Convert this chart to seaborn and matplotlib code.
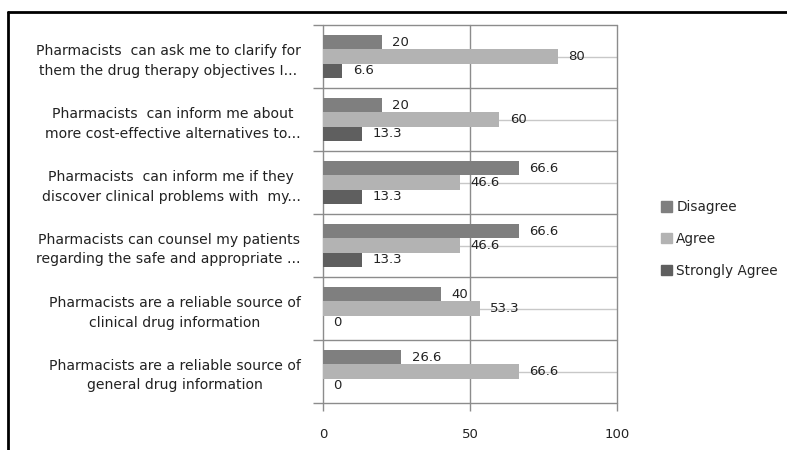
import matplotlib
matplotlib.use("Agg")
import matplotlib.pyplot as plt
import seaborn as sns
import pandas as pd
import numpy as np
from matplotlib.lines import Line2D

categories = [
    "Pharmacists  can ask me to clarify for\nthem the drug therapy objectives I...",
    "Pharmacists  can inform me about\nmore cost-effective alternatives to...",
    "Pharmacists  can inform me if they\ndiscover clinical problems with  my...",
    "Pharmacists can counsel my patients\nregarding the safe and appropriate ...",
    "Pharmacists are a reliable source of\nclinical drug information",
    "Pharmacists are a reliable source of\ngeneral drug information",
]
series = ["Disagree", "Agree", "Strongly Agree"]
disagree = [20, 20, 66.6, 66.6, 40, 26.6]
agree = [80, 60, 46.6, 46.6, 53.3, 66.6]
strongly_agree = [6.6, 13.3, 13.3, 13.3, 0, 0]
label_text = {
    "Disagree": ["20", "20", "66.6", "66.6", "40", "26.6"],
    "Agree": ["80", "60", "46.6", "46.6", "53.3", "66.6"],
    "Strongly Agree": ["6.6", "13.3", "13.3", "13.3", "0", "0"],
}
colors = ["#7f7f7f", "#b3b3b3", "#5f5f5f"]
xticks = [0, 50, 100]

rows = []
for s, vals in zip(series, [disagree, agree, strongly_agree]):
    for c, v in zip(categories, vals):
        rows.append({"category": c, "series": s, "value": v})
df = pd.DataFrame(rows)

sns.set_style("white")
plt.rcParams["font.family"] = ["DejaVu Sans"]

fig = plt.figure(figsize=(7.87, 4.5), dpi=100)
ax = fig.add_axes([323 / 787, 1 - 403 / 450, (617 - 323) / 787, (403 - 25) / 450])

n = len(categories)
# light center lines
for i in range(n):
    ax.plot([0, 100], [i, i], color="#c8c8c8", lw=1, zorder=0)

sns.barplot(data=df, y="category", x="value", hue="series", hue_order=series,
            order=categories, palette=colors, orient="h", width=0.68,
            saturation=1, ax=ax, legend=True, zorder=2, edgecolor="none")

ax.set_xlim(0, 100)
ax.set_ylim(n - 0.5, -0.5)

# boundary grid lines
for b in np.arange(-0.5, n, 1.0):
    ax.axhline(b, color="#8c8c8c", lw=1, zorder=1, clip_on=False)
for xv in xticks:
    ax.axvline(xv, color="#8c8c8c", lw=1, zorder=1, clip_on=False)

for sp in ax.spines.values():
    sp.set_visible(False)

ax.set_xlabel("")
ax.set_ylabel("")
ax.set_xticks(xticks)
ax.set_xticklabels([str(x) for x in xticks], fontsize=9.5, color="#222222")
ax.tick_params(axis="x", bottom=True, length=6, width=1, color="#8c8c8c", pad=12, direction="out")
ax.set_yticks(range(n))
ax.set_yticklabels(categories, fontsize=10.1, color="#222222")
ax.tick_params(axis="y", which="major", left=False, length=0, pad=16)
for t in ax.get_yticklabels():
    t.set_multialignment("center")
    t.set_linespacing(1.5)
ax.set_yticks(np.arange(-0.5, n, 1.0), minor=True)
ax.tick_params(axis="y", which="minor", left=True, length=7, width=1, color="#8c8c8c", direction="out")

# data labels
for cont, s in zip(ax.containers, series):
    for rect, txt in zip(cont, label_text[s]):
        w = rect.get_width()
        yc = rect.get_y() + rect.get_height() / 2
        ax.annotate(txt, (w, yc), xytext=(7.5, 0), textcoords="offset points",
                    va="center", ha="left", fontsize=9.5,
                    color="#222222", zorder=5)

# legend
handles = [plt.Rectangle((0, 0), 1, 1, color=c) for c in colors]
ax.legend(handles, series, loc="center left", bbox_to_anchor=(649 / 787, 1 - 239 / 450),
          bbox_transform=fig.transFigure, frameon=False, fontsize=9.8,
          handlelength=0.8, handleheight=0.8, handletextpad=0.3, labelspacing=1.3)

# outer frame
fig.add_artist(Line2D([8 / 787, 1.0], [1 - 12 / 450, 1 - 12 / 450], color="black", lw=2,
                      transform=fig.transFigure))
fig.add_artist(Line2D([8 / 787, 8 / 787], [0, 1 - 12 / 450], color="black", lw=2,
                      transform=fig.transFigure))

fig.savefig("out.png", dpi=100)
